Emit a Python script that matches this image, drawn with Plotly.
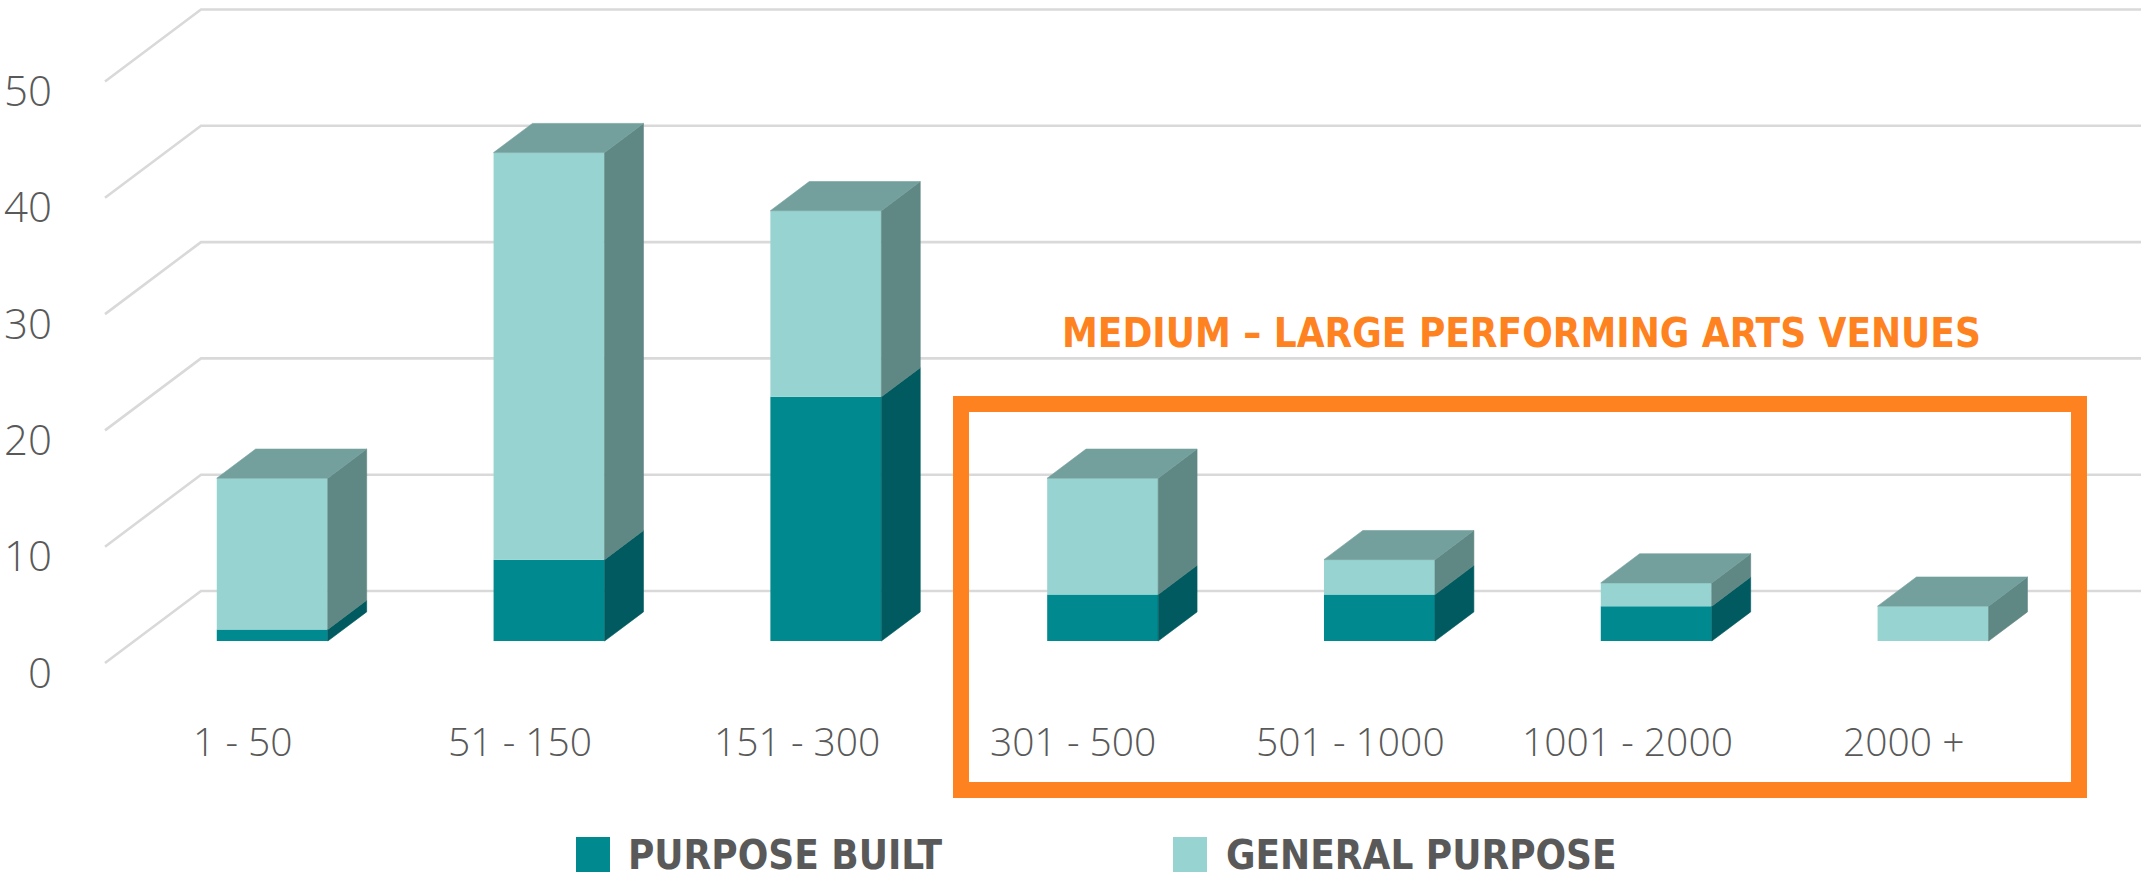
import plotly.graph_objects as go

# ---------------- data ----------------
categories = ["1 - 50", "51 - 150", "151 - 300", "301 - 500", "501 - 1000", "1001 - 2000", "2000 +"]
purpose_built = [1, 7, 21, 4, 4, 3, 0]
general_purpose = [13, 35, 16, 10, 3, 2, 3]
y_ticks = [0, 10, 20, 30, 40, 50]
series_names = ["PURPOSE BUILT", "GENERAL PURPOSE"]
highlight_title = "MEDIUM \u2013 LARGE PERFORMING ARTS VENUES"

# ---------------- style / geometry ----------------
W_PX, H_PX = 2141, 880
PX_PER_CAT = 276.8
PX_PER_VAL = 11.63
X0_PX = 243.0      # pixel of category 0 on the front plane
Y0_PX = 663.0      # pixel of value 0 on the front plane

DX = 96.0 / PX_PER_CAT   # full-depth oblique offset (x units)
DY = 72.0 / PX_PER_VAL   # full-depth oblique offset (value units)
F0, F1 = 0.305, 0.71     # bar front / back depth
BW = 111.0 / PX_PER_CAT  # bar width

x_range = [-X0_PX / PX_PER_CAT, (W_PX - X0_PX) / PX_PER_CAT]
y_range = [(Y0_PX - H_PX) / PX_PER_VAL, Y0_PX / PX_PER_VAL]

PB_FRONT, PB_SIDE = "#008A90", "#005A5F"
GP_FRONT, GP_SIDE = "#97D4D1", "#5F8783"
TOP = "#73A09D"
GRID = "#D9D9D9"
TXT = "#595959"
ORANGE = "#FF8220"
THIN_FONT = "Open Sans"
COND_FONT = "DejaVu Sans Condensed, Roboto Condensed, Liberation Sans Narrow, Arial Narrow, Roboto, sans-serif"

fig = go.Figure()

n = len(categories)
xc = [i + F0 * DX for i in range(n)]
base0 = F0 * DY

# front faces via bar traces
fig.add_trace(go.Bar(x=xc, y=purpose_built, base=[base0] * n, width=BW,
                     marker=dict(color=PB_FRONT, line=dict(width=0)),
                     name=series_names[0], showlegend=False, hoverinfo="skip"))
fig.add_trace(go.Bar(x=xc, y=general_purpose,
                     base=[base0 + p for p in purpose_built], width=BW,
                     marker=dict(color=GP_FRONT, line=dict(width=0)),
                     name=series_names[1], showlegend=False, hoverinfo="skip"))


def poly(xs, ys, color):
    fig.add_trace(go.Scatter(x=xs + [xs[0]], y=ys + [ys[0]], mode="lines",
                             fill="toself", fillcolor=color,
                             line=dict(width=0.6, color=color),
                             showlegend=False, hoverinfo="skip"))


ddx = (F1 - F0) * DX
for i in range(n):
    xl = xc[i] - BW / 2
    xr = xc[i] + BW / 2
    segs = [(0, purpose_built[i], PB_SIDE), (purpose_built[i], purpose_built[i] + general_purpose[i], GP_SIDE)]
    for b, t, col in segs:
        if t - b <= 0:
            continue
        poly([xr, xr + ddx, xr + ddx, xr],
             [F0 * DY + b, F1 * DY + b, F1 * DY + t, F0 * DY + t], col)
    T = purpose_built[i] + general_purpose[i]
    poly([xl, xr, xr + ddx, xl + ddx],
         [F0 * DY + T, F0 * DY + T, F1 * DY + T, F1 * DY + T], TOP)

shapes = []
annotations = []
x_front = (105 - X0_PX) / PX_PER_CAT
for v in y_ticks:
    shapes.append(dict(type="path", xref="x", yref="y", layer="below",
                       path=f"M {x_front},{v} L {x_front + DX},{v + DY} L {x_range[1]},{v + DY}",
                       line=dict(color=GRID, width=2.6)))
    annotations.append(dict(xref="paper", yref="y", x=54 / W_PX, y=v, yshift=-8,
                            text=str(v), showarrow=False, xanchor="right", yanchor="middle",
                            font=dict(family=THIN_FONT, size=42, color=TXT, weight=300)))

for i, c in enumerate(categories):
    annotations.append(dict(xref="x", yref="y", x=i, y=0, yshift=-77, text=c,
                            showarrow=False, xanchor="center", yanchor="middle",
                            font=dict(family=THIN_FONT, size=39, color=TXT, weight=300)))

# highlight box
shapes.append(dict(type="rect", xref="paper", yref="paper",
                   x0=961 / W_PX, x1=2079 / W_PX, y0=1 - 790 / H_PX, y1=1 - 404 / H_PX,
                   line=dict(color=ORANGE, width=16), fillcolor="rgba(0,0,0,0)"))
annotations.append(dict(xref="paper", yref="paper", x=1521 / W_PX, y=1 - 333 / H_PX,
                        text=f"<b>{highlight_title}</b>", showarrow=False,
                        xanchor="center", yanchor="middle",
                        font=dict(family=COND_FONT, size=40, color=ORANGE)))

# legend
leg = [(576, 626, PB_FRONT, series_names[0]), (1173, 1224, GP_FRONT, series_names[1])]
for sx, tx, col, name in leg:
    shapes.append(dict(type="rect", xref="paper", yref="paper",
                       x0=sx / W_PX, x1=(sx + 34) / W_PX, y0=1 - 872 / H_PX, y1=1 - 837 / H_PX,
                       line=dict(width=0), fillcolor=col))
    annotations.append(dict(xref="paper", yref="paper", x=tx / W_PX, y=1 - 855 / H_PX,
                            text=f"<b>{name}</b>", showarrow=False, xanchor="left", yanchor="middle",
                            font=dict(family=COND_FONT, size=40, color=TXT)))

fig.update_layout(
    width=W_PX, height=H_PX,
    margin=dict(l=0, r=0, t=0, b=0),
    paper_bgcolor="white", plot_bgcolor="white",
    barmode="overlay",
    xaxis=dict(range=x_range, visible=False, fixedrange=True),
    yaxis=dict(range=y_range, visible=False, fixedrange=True),
    shapes=shapes, annotations=annotations,
    showlegend=False,
)

fig.write_html("out.html", config={"displayModeBar": False},
               post_script="document.body.style.margin='0';document.body.style.overflow='hidden';")
